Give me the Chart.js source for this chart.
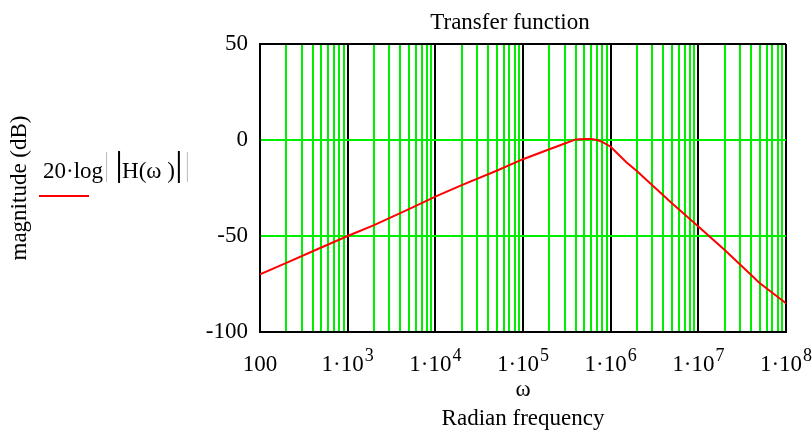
<!DOCTYPE html>
<html>
<head>
<meta charset="utf-8">
<script src="https://cdn.jsdelivr.net/npm/chart.js@4.4.1/dist/chart.umd.min.js"></script>
<style>
  body { margin: 0; background: #fff; }
</style>
</head>
<body>
<canvas id="bode" width="812" height="434"></canvas>
<script>
// frequency points (rad/s) and magnitude (dB)
var omega = [100, 200, 500, 1e3, 2e3, 5e3, 1e4, 2e4, 5e4, 1e5, 2e5, 3e5, 4e5, 5e5, 6e5, 7e5, 8e5, 1e6, 1.5e6, 2e6, 5e6, 1e7, 2e7, 5e7, 1e8];
var magnitudeDb = [-70, -64, -56, -50, -44.3, -36, -29.5, -23.5, -16, -10, -4.8, -1.8, 0.3, 0.5, 0.5, 0, -1, -3.5, -11.5, -16.3, -33, -45, -57.3, -74.5, -85];

var xDecades = [100, 1e3, 1e4, 1e5, 1e6, 1e7, 1e8];
var xTickBase = ['100', '1\u00b710', '1\u00b710', '1\u00b710', '1\u00b710', '1\u00b710', '1\u00b710'];
var xTickExp = ['', '3', '4', '5', '6', '7', '8'];
var yTicks = [-100, -50, 0, 50];

var GREEN = '#00ee00';
var serif = 'Liberation Serif';

Chart.defaults.color = '#000';
Chart.defaults.font.family = serif;

// every 1..9 x 10^n line of the log grid
var xGrid = [];
for (var d = 0; d < xDecades.length - 1; d++) {
    for (var m = 1; m <= 9; m++) xGrid.push(xDecades[d] * m);
}
xGrid.push(xDecades[xDecades.length - 1]);

var isDecade = function (v) {
    return xDecades.some(function (d) { return Math.abs(v - d) / d < 1e-9; });
};

var points = omega.map(function (w, i) { return { x: w, y: magnitudeDb[i] }; });

var mathcadText = {
    id: 'mathcadText',
    afterDraw: function (chart) {
        var c = chart.ctx;
        var xs = chart.scales.x;
        c.save();
        c.fillStyle = '#000';
        c.textBaseline = 'alphabetic';
        c.font = '23px "' + serif + '"';
        c.textAlign = 'center';
        c.fillText('Transfer function', 510, 29);

        // decade labels with raised exponent
        c.textAlign = 'left';
        xDecades.forEach(function (v, i) {
            var px = xs.getPixelForValue(v);
            c.font = '23px "' + serif + '"';
            var wb = c.measureText(xTickBase[i]).width;
            c.font = '18px "' + serif + '"';
            var we = xTickExp[i] ? c.measureText(xTickExp[i]).width + 1 : 0;
            var x0 = px - (wb + we) / 2;
            c.font = '23px "' + serif + '"';
            c.fillText(xTickBase[i], x0, 371);
            if (xTickExp[i]) {
                c.font = '18px "' + serif + '"';
                c.fillText(xTickExp[i], x0 + wb + 1, 361);
            }
        });

        // legend entry
        c.font = '23px "' + serif + '"';
        var x = 43;
        c.fillText('20\u00b7log', x, 178);
        x += c.measureText('20\u00b7log').width + 3;
        c.fillStyle = '#bbb';
        c.fillRect(x, 152, 1, 30);
        x += 12;
        c.fillStyle = '#000';
        c.fillRect(x, 151, 2, 32);
        x += 4;
        c.fillText('H(\u03c9 )', x, 178);
        x += c.measureText('H(\u03c9 )').width + 3;
        c.fillRect(x, 151, 2, 32);
        c.fillStyle = '#bbb';
        c.fillRect(x + 9, 152, 1, 30);

        c.strokeStyle = '#ff0000';
        c.lineWidth = 2;
        c.beginPath();
        c.moveTo(39, 196);
        c.lineTo(89, 196);
        c.stroke();
        c.restore();
    }
};

var chart = new Chart(document.getElementById('bode').getContext('2d'), {
    type: 'scatter',
    data: {
        datasets: [{
            label: '20\u00b7log(|H(\u03c9)|)',
            data: points,
            showLine: true,
            borderColor: '#ff0000',
            backgroundColor: '#ff0000',
            borderWidth: 2,
            pointRadius: 0,
            tension: 0
        }]
    },
    options: {
        responsive: false,
        animation: false,
        layout: { padding: { top: 44, right: 26, left: 0, bottom: 0 } },
        plugins: {
            legend: { display: false },
            tooltip: { enabled: false }
        },
        scales: {
            x: {
                type: 'logarithmic',
                min: 100,
                max: 1e8,
                afterBuildTicks: function (scale) {
                    scale.ticks = xGrid.map(function (v) { return { value: v }; });
                },
                afterFit: function (scale) {
                    scale.height = 102;
                    scale.paddingLeft = 0;
                    scale.paddingRight = 0;
                },
                ticks: { display: false },
                grid: {
                    drawTicks: false,
                    lineWidth: 2,
                    color: function (ctx) {
                        return ctx.tick && isDecade(ctx.tick.value) ? '#000' : GREEN;
                    }
                },
                border: { color: '#000', width: 2 },
                title: {
                    display: true,
                    text: ['\u03c9', 'Radian frequency'],
                    font: { size: 23, lineHeight: 1.26 },
                    padding: { top: 0, bottom: 1 }
                }
            },
            y: {
                min: -100,
                max: 50,
                afterBuildTicks: function (scale) {
                    scale.ticks = yTicks.map(function (v) { return { value: v }; });
                },
                afterFit: function (scale) {
                    scale.width = 260;
                },
                ticks: {
                    padding: 12,
                    font: { size: 23 }
                },
                grid: {
                    drawTicks: false,
                    lineWidth: 2,
                    color: function (ctx) {
                        var v = ctx.tick ? ctx.tick.value : 0;
                        return (v === 50 || v === -100) ? '#000' : GREEN;
                    }
                },
                border: { color: '#000', width: 2 },
                title: {
                    display: true,
                    text: 'magnitude (dB)',
                    font: { size: 23 },
                    padding: { top: 6, bottom: 0 }
                }
            }
        }
    },
    plugins: [mathcadText]
});
</script>
</body>
</html>
